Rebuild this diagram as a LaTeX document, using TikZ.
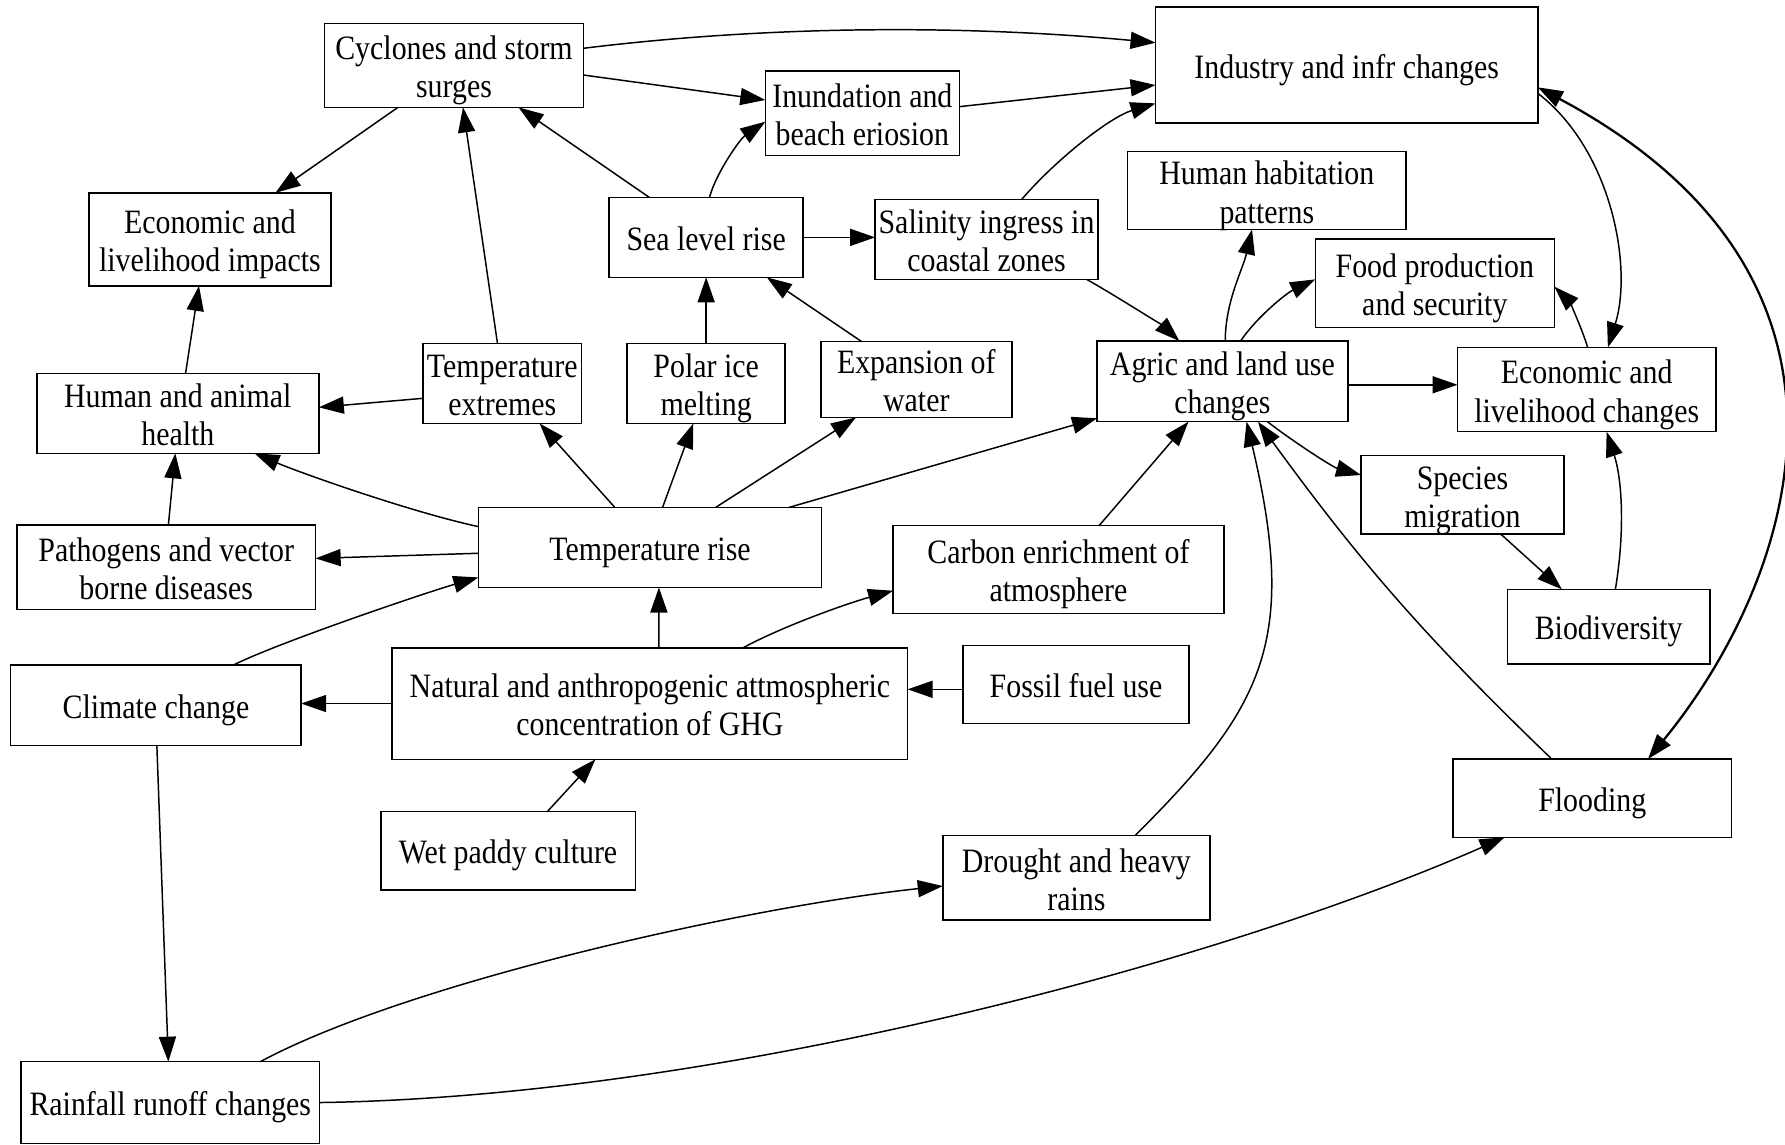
\documentclass[tikz,border=0pt]{standalone}
\usepackage{fontspec}
\setmainfont{Liberation Serif}[FakeStretch=0.875]
\usetikzlibrary{arrows.meta}
\begin{document}
\begin{tikzpicture}[x=1pt,y=-1pt,
  box/.style={draw, line width=1.3pt, rectangle, inner sep=0pt, outer sep=0pt, align=center,
    font=\fontsize{30}{33.5}\selectfont, text height=23pt, text depth=0pt},
  boxb/.style={box, text height=57pt, text depth=0pt},
  arr/.style={line width=1.3pt, -{Triangle[length=22pt,width=15pt]}},
  dbl/.style={line width=2pt, {Triangle[length=22pt,width=15pt]}-{Triangle[length=22pt,width=15pt]}},
]
\useasboundingbox (0,0) rectangle (1568,1005);

% nodes
\node[boxb, minimum width=227.6pt, minimum height=73.8pt] (cyc) at (398.8,57.4) {Cyclones and storm\\surges};
\node[box, minimum width=335.8pt, minimum height=102pt] (ind) at (1183,57.2) {Industry and infr changes};
\node[boxb, minimum width=170.4pt, minimum height=74.1pt] (inu) at (757.5,99.5) {Inundation and\\beach eriosion};
\node[boxb, minimum width=212.8pt, minimum height=81.7pt] (eci) at (184.4,210.2) {Economic and\\livelihood impacts};
\node[box, minimum width=170.4pt, minimum height=70.2pt] (sea) at (620.3,208.5) {Sea level rise};
\node[boxb, minimum width=195.7pt, minimum height=70.3pt] (sal) at (866.6,210.3) {Salinity ingress in\\coastal zones};
\node[boxb, minimum width=244.4pt, minimum height=68.3pt] (hab) at (1112.8,167.4) {Human habitation\\patterns};
\node[boxb, minimum width=210.1pt, minimum height=77.6pt] (food) at (1260.4,248.8) {Food production\\and security};
\node[boxb, minimum width=139.5pt, minimum height=70.3pt] (tex) at (441.2,336.8) {Temperature\\extremes};
\node[boxb, minimum width=138.8pt, minimum height=70.3pt] (pol) at (620.3,336.8) {Polar ice\\melting};
\node[boxb, minimum width=167.7pt, minimum height=66.5pt] (exp) at (804.9,333.4) {Expansion of\\water};
\node[boxb, minimum width=220.2pt, minimum height=70.8pt] (agr) at (1073.8,335) {Agric and land use\\changes};
\node[boxb, minimum width=226.9pt, minimum height=74.1pt] (ecc) at (1393.8,342.2) {Economic and\\livelihood changes};
\node[boxb, minimum width=247.7pt, minimum height=70.2pt] (hea) at (156.2,363.1) {Human and animal\\health};
\node[boxb, minimum width=178.2pt, minimum height=69.1pt] (spe) at (1284.7,434.6) {Species\\migration};
\node[boxb, minimum width=262.5pt, minimum height=74.1pt] (pat) at (146,498.3) {Pathogens and vector\\borne diseases};
\node[box, minimum width=301.5pt, minimum height=70.3pt] (tri) at (571,480.9) {Temperature rise};
\node[boxb, minimum width=290.5pt, minimum height=77pt] (car) at (929.8,500.3) {Carbon enrichment of\\atmosphere};
\node[box, minimum width=178.2pt, minimum height=65.6pt] (bio) at (1413.1,550.5) {Biodiversity};
\node[box, minimum width=255.1pt, minimum height=70.8pt] (cli) at (137,619.6) {Climate change};
\node[boxb, minimum width=452.8pt, minimum height=98pt] (nat) at (570.9,618) {Natural and anthropogenic attmospheric\\concentration of GHG};
\node[box, minimum width=198.4pt, minimum height=68.2pt] (fos) at (945.2,601.3) {Fossil fuel use};
\node[box, minimum width=244.7pt, minimum height=68.8pt] (flo) at (1398.7,701.1) {Flooding};
\node[box, minimum width=223.5pt, minimum height=68.8pt] (wet) at (446.3,747.4) {Wet paddy culture};
\node[boxb, minimum width=234.6pt, minimum height=74.4pt] (dro) at (945.5,771) {Drought and heavy\\rains};
\node[box, minimum width=262.2pt, minimum height=71.7pt] (rai) at (149.6,968.5) {Rainfall runoff changes};

% connectors
\draw[arr] ([yshift=15pt]cyc.east) .. controls +(167,-20.5) and +(-165,-15.5) .. ([yshift=19.7pt]ind.west);
\draw[arr] ([yshift=-8.5pt]cyc.east) -- ([yshift=11.7pt]inu.west);
\draw[arr] ([yshift=5.8pt]inu.east) -- ([yshift=-17.5pt]ind.west);
\draw[arr] ([xshift=30.9pt]sal.north) .. controls +(30,-35) and +(-40,12) .. ([yshift=-33.6pt]ind.west);
\draw[arr] ([xshift=-49.2pt]cyc.south) -- ([xshift=57.6pt]eci.north);
\draw[arr] ([xshift=-49.9pt]sea.north) -- ([xshift=56.7pt]cyc.south);
\draw[arr] ([xshift=2.9pt]sea.north) .. controls +(6,-22) and +(-22,15) .. ([yshift=-7.4pt]inu.west);
\draw[arr] (sea.east) -- (sea.east -| sal.west);
\draw[arr] ([xshift=-4.2pt]tex.north) -- ([xshift=7.9pt]cyc.south);
\draw[arr] (pol.north) -- (sea.south);
\draw[arr] ([xshift=-47.9pt]exp.north) -- ([xshift=53.3pt]sea.south);
\draw[arr] ([xshift=88pt]sal.south) .. controls +(20,11) and +(-14,-13) .. ([xshift=-37.8pt]agr.north);
\draw[arr] ([xshift=2.5pt]agr.north) .. controls +(0,-35) and +(-8,35) .. ([xshift=-13pt]hab.south);
\draw[arr] ([xshift=15.9pt]agr.north) .. controls +(15,-22) and +(-25,12) .. ([yshift=3.4pt]food.west);
\draw[arr] ([yshift=-3pt]agr.east) -- ([yshift=-3pt]agr.east -| ecc.west);
\draw[arr] ([xshift=0.8pt]ecc.north) .. controls +(-6,-20) and +(12,12) .. ([yshift=-3pt]food.east);
\draw[arr] ([yshift=-24.8pt]ind.east) .. controls +(65,50) and +(22,-70) .. ([xshift=18.6pt]ecc.north);
\draw[dbl] ([yshift=-19.5pt]ind.east) .. controls +(322.3,172.2) and +(122.2,-149) .. ([xshift=49pt]flo.north);
\draw[arr] ([yshift=18.3pt]tri.west) .. controls +(-60,-13) and +(40,17) .. ([xshift=67.3pt]hea.south);
\draw[arr] ([xshift=-30.9pt]tri.north) -- ([xshift=32.8pt]tex.south);
\draw[arr] ([xshift=11pt]tri.north) -- ([xshift=-11.3pt]pol.south);
\draw[arr] ([xshift=57.6pt]tri.north) -- ([xshift=-53pt]exp.south);
\draw[arr] ([xshift=122pt]tri.north) -- ([yshift=3pt]agr.south west);
\draw[arr] ([yshift=-13.1pt]tex.west) -- ([yshift=5.3pt]hea.east);
\draw[arr] ([xshift=6.8pt]hea.north) -- ([xshift=-9.6pt]eci.south);
\draw[arr] ([xshift=1.9pt]pat.north) -- ([xshift=-2.2pt]hea.south);
\draw[arr] ([yshift=-5.1pt]tri.west) -- ([yshift=7.8pt]pat.east);
\draw[arr] ([xshift=68pt]cli.north) .. controls +(40,-20) and +(-45,13) .. ([yshift=-26.3pt]tri.west);
\draw[arr] (nat.west) -- (nat.west -| cli.east);
\draw[arr] ([xshift=7.9pt]nat.north) -- ([xshift=7.8pt]tri.south);
\draw[arr] ([xshift=81.9pt]nat.north) .. controls +(35,-19) and +(-40,11) .. ([yshift=-18.6pt]car.west);
\draw[arr] ([xshift=35.6pt]car.north) -- ([xshift=-29.8pt]agr.south);
\draw[arr] ([yshift=-4.2pt]fos.west) -- ([yshift=-4.2pt]fos.west -| nat.east);
\draw[arr] ([xshift=34.4pt]wet.north) -- ([xshift=-47.9pt]nat.south);
\draw[arr] ([xshift=0.8pt]cli.south) -- ([xshift=-1.7pt]rai.north);
\draw[arr] ([xshift=79pt]rai.north) .. controls +(130,-70) and +(-170,18) .. ([yshift=-7.3pt]dro.west);
\draw[arr] (rai.east) .. controls +(350,-5) and +(-250,110) .. ([xshift=-77pt]flo.south);
\draw[arr] ([xshift=51.8pt]dro.north) .. controls +(112,-112) and +(46,194) .. ([xshift=21.2pt]agr.south);
\draw[arr] ([xshift=-35.7pt]flo.north) to[bend left=5] ([xshift=31.2pt]agr.south);
\draw[arr] ([xshift=39.5pt]agr.south) .. controls +(22,17) and +(-25,-7) .. ([yshift=17.3pt]spe.west);
\draw[arr] ([xshift=33.6pt]spe.south) -- ([xshift=-41.1pt]bio.north);
\draw[arr] ([xshift=5.9pt]bio.north) .. controls +(9,-55) and +(13,40) .. ([xshift=17.5pt]ecc.south);
\end{tikzpicture}
\end{document}
